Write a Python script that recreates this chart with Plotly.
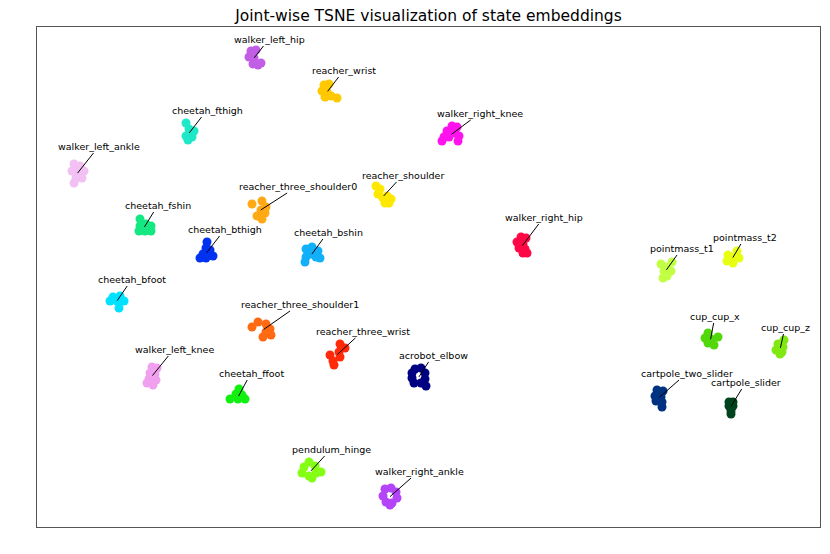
import plotly.graph_objects as go

# Joint names (one cluster per joint)
joints = [
    "walker_left_hip", "reacher_wrist", "cheetah_fthigh", "walker_left_ankle",
    "reacher_shoulder", "reacher_three_shoulder0", "cheetah_fshin", "cheetah_bthigh",
    "cheetah_bshin", "walker_right_knee", "walker_right_hip", "pointmass_t1",
    "pointmass_t2", "cheetah_bfoot", "reacher_three_shoulder1", "reacher_three_wrist",
    "walker_left_knee", "cheetah_ffoot", "acrobot_elbow", "pendulum_hinge",
    "walker_right_ankle", "cup_cup_x", "cup_cup_z", "cartpole_two_slider",
    "cartpole_slider",
]

colors = [
    "#c25ee6", "#ffc800", "#1ee8c8", "#f2c0f2",
    "#ffe800", "#ffaa14", "#14e882", "#0032f0",
    "#12b0f8", "#ff12ee", "#ff0846", "#c2ff44",
    "#e8ff12", "#00e2ff", "#ff6a12", "#ff2a0a",
    "#f0a0ee", "#12f012", "#000082", "#84ff14",
    "#b444f8", "#52d80a", "#82e812", "#003282",
    "#00441e",
]

# TSNE embedding points per joint (x values, y values)
emb_x = [
    [251, 256, 249, 254, 253, 258, 261, 252],
    [324, 329, 322, 327, 325, 331, 337, 326],
    [186, 189, 194, 186, 192, 188, 190],
    [74, 80, 72, 78, 84, 76, 82, 74, 78],
    [376, 380, 378, 387, 391, 385, 389, 383],
    [252, 262, 266, 261, 265, 257, 262],
    [140, 140, 146, 151, 139, 145, 151, 143],
    [207, 206, 210, 203, 209, 213, 200, 206],
    [306, 312, 318, 311, 316, 320, 306, 305, 313],
    [452, 457, 447, 455, 444, 449, 459, 442, 458],
    [521, 526, 517, 523, 519, 525, 523, 527, 521],
    [661, 667, 672, 664, 671, 667, 663],
    [737, 728, 734, 739, 727, 733, 732],
    [113, 120, 110, 117, 124, 119],
    [252, 258, 266, 270, 266, 271, 263],
    [340, 345, 339, 330, 340, 333, 334],
    [152, 157, 150, 155, 149, 156, 147, 153, 153],
    [239, 236, 242, 245, 238, 230, 240],
    [415, 421, 425, 425, 421, 414, 412, 412, 426],
    [309, 304, 315, 302, 309, 316, 321, 312],
    [385, 391, 396, 397, 392, 386, 383, 390],
    [708, 705, 711, 718, 708, 714, 710],
    [784, 778, 783, 776, 782, 780, 780],
    [657, 663, 655, 661, 656, 662, 662, 659],
    [729, 733, 729, 733, 731, 731, 731],
]
emb_y = [
    [503, 504, 497, 496, 490, 489, 491, 500],
    [469, 470, 463, 462, 457, 458, 456, 466],
    [431, 425, 423, 418, 417, 414, 420],
    [390, 388, 383, 382, 383, 376, 376, 371, 379],
    [368, 365, 360, 358, 355, 351, 351, 356],
    [350, 353, 347, 344, 341, 338, 335],
    [335, 328, 330, 328, 323, 323, 323, 326],
    [312, 306, 304, 300, 299, 298, 296, 296],
    [305, 307, 303, 300, 297, 296, 297, 292, 302],
    [428, 427, 423, 421, 417, 417, 418, 413, 413],
    [317, 316, 312, 310, 306, 305, 301, 301, 308],
    [290, 287, 292, 283, 283, 278, 276],
    [303, 299, 297, 296, 293, 291, 296],
    [257, 258, 253, 253, 253, 246],
    [227, 232, 230, 225, 222, 219, 217],
    [210, 206, 202, 199, 197, 193, 189],
    [187, 186, 181, 180, 175, 174, 171, 169, 183],
    [165, 160, 159, 155, 155, 155, 157],
    [185, 186, 181, 175, 171, 171, 176, 181, 168],
    [92, 87, 88, 81, 78, 81, 82, 76],
    [65, 66, 62, 56, 51, 52, 58, 49],
    [221, 216, 215, 217, 211, 209, 214],
    [214, 210, 207, 204, 202, 200, 206],
    [164, 163, 158, 157, 153, 152, 147, 160],
    [152, 152, 148, 148, 150, 143, 140],
]

# Label text positions (embedding coordinates)
label_x = [269, 344, 207, 99, 403, 298, 158, 225, 328, 480, 544, 682, 745,
           132, 300, 363, 174, 251, 433, 331, 419, 715, 785, 687, 746]
label_y = [515, 484, 444, 408, 379, 368, 349, 325, 322, 441, 337, 306, 317,
           275, 250, 223, 205, 181, 199, 105, 83, 238, 227, 181, 172]

fig = go.Figure()
annotations = []
for i, name in enumerate(joints):
    xs, ys = emb_x[i], emb_y[i]
    fig.add_trace(go.Scatter(
        x=xs, y=ys, mode="markers", name=name, showlegend=False,
        marker=dict(size=9, color=colors[i], line=dict(width=0)),
        hoverinfo="name",
    ))
    cx = sum(xs) / len(xs)
    cy = sum(ys) / len(ys)
    annotations.append(dict(
        x=cx, y=cy, xref="x", yref="y",
        ax=label_x[i], ay=label_y[i], axref="x", ayref="y",
        text=name, showarrow=True, arrowhead=0, arrowwidth=1,
        arrowcolor="black", standoff=0, startstandoff=0,
        font=dict(family="DejaVu Sans", size=9.5, color="black"),
        borderpad=1,
    ))

# The page body has an 8px margin; size the figure so the plot area lands
# where the reference has it.
fig.update_layout(
    width=822, height=546,
    margin=dict(l=29, r=10, t=19, b=27),
    paper_bgcolor="white", plot_bgcolor="white",
    title=dict(text="Joint-wise TSNE visualization of state embeddings",
               x=(29 + 812) / 2 / 822, xanchor="center",
               y=1 - 8 / 546, yanchor="middle",
               font=dict(family="DejaVu Sans", size=15.5, color="black")),
    annotations=annotations,
    xaxis=dict(range=[37, 820], showgrid=False, zeroline=False,
               showticklabels=False, ticks="", showline=True, mirror=True,
               linecolor="#555555", linewidth=1),
    yaxis=dict(range=[27, 527], showgrid=False, zeroline=False,
               showticklabels=False, ticks="", showline=True, mirror=True,
               linecolor="#555555", linewidth=1),
)

fig.write_html("out.html")
